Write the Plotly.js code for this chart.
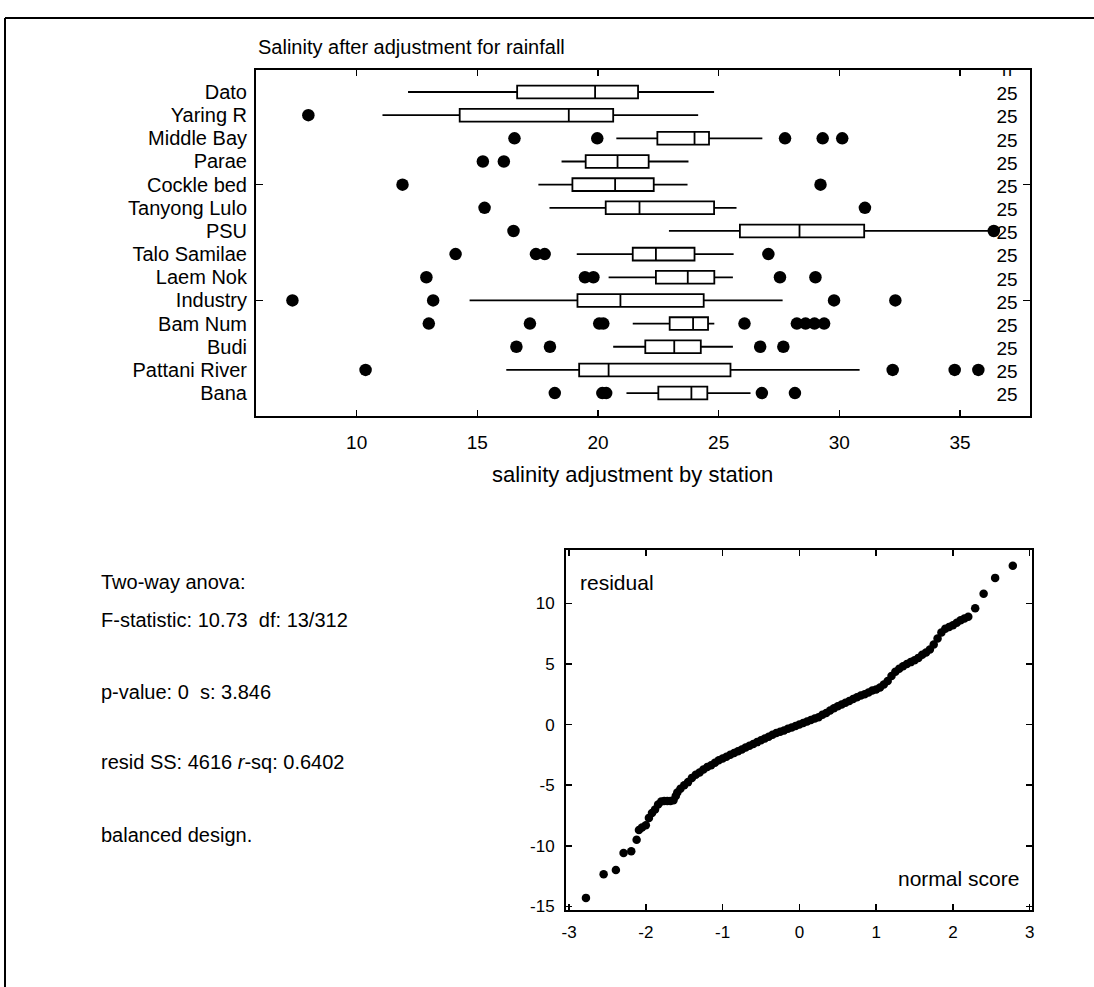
<!DOCTYPE html>
<html>
<head>
<meta charset="utf-8">
<script src="https://cdn.plot.ly/plotly-3.0.1.min.js"></script>
<style>html,body{margin:0;padding:0;background:#fff}#chart{width:1094px;height:987px}</style>
</head>
<body>
<div id="chart"></div>
<script>
// ---- data ----
var stations = ["Dato","Yaring R","Middle Bay","Parae","Cockle bed","Tanyong Lulo","PSU",
                "Talo Samilae","Laem Nok","Industry","Bam Num","Budi","Pattani River","Bana"];
var lowerWhisker = [12.13, 11.07, 20.76, 18.49, 17.53, 17.99, 22.94, 19.12, 20.44, 14.68, 21.44, 20.63, 16.20, 21.18];
var q1Values     = [16.65, 14.27, 22.46, 19.49, 18.94, 20.32, 25.88, 21.44, 22.40, 19.15, 22.97, 21.96, 19.22, 22.50];
var medianValues = [19.88, 18.79, 24.00, 20.81, 20.71, 21.72, 28.35, 22.40, 23.72, 20.93, 23.94, 23.16, 20.44, 23.87];
var q3Values     = [21.66, 20.63, 24.60, 22.10, 22.31, 24.81, 31.03, 24.00, 24.82, 24.38, 24.56, 24.26, 25.49, 24.53];
var upperWhisker = [24.81, 24.15, 26.81, 23.75, 23.71, 25.74, 36.18, 25.62, 25.59, 27.65, 24.82, 25.59, 30.84, 26.32];
var stationCounts = [25,25,25,25,25,25,25,25,25,25,25,25,25,25];
var countHeader = "n";

var outlierStation = ["Yaring R",
  "Middle Bay","Middle Bay","Middle Bay","Middle Bay","Middle Bay",
  "Parae","Parae",
  "Cockle bed","Cockle bed",
  "Tanyong Lulo","Tanyong Lulo",
  "PSU","PSU",
  "Talo Samilae","Talo Samilae","Talo Samilae","Talo Samilae",
  "Laem Nok","Laem Nok","Laem Nok","Laem Nok","Laem Nok",
  "Industry","Industry","Industry","Industry",
  "Bam Num","Bam Num","Bam Num","Bam Num","Bam Num","Bam Num","Bam Num","Bam Num","Bam Num",
  "Budi","Budi","Budi","Budi",
  "Pattani River","Pattani River","Pattani River","Pattani River",
  "Bana","Bana","Bana","Bana","Bana"];
var outlierValue = [8.00,
  16.54, 19.97, 27.75, 29.31, 30.12,
  15.23, 16.10,
  11.90, 29.22,
  15.30, 31.06,
  16.50, 36.40,
  14.10, 17.43, 17.79, 27.06,
  12.89, 19.46, 19.81, 27.54, 29.01,
  7.34, 13.17, 29.78, 32.32,
  12.99, 17.18, 20.05, 20.22, 26.07, 28.24, 28.60, 28.97, 29.37,
  16.62, 18.01, 26.72, 27.68,
  10.37, 32.21, 34.78, 35.76,
  18.21, 20.18, 20.34, 26.79, 28.16];

var xTickVals = [10, 15, 20, 25, 30, 35];

// normal probability plot of residuals (normal score, residual)
var qqScore = [-2.78,-2.55,-2.39,-2.29,-2.19,-2.12,
  -2.09,-2.05,-2.00,-1.96,-1.92,-1.88,-1.84,-1.80,-1.76,-1.72,-1.68,-1.64,-1.61,-1.59,-1.55,-1.50,-1.45,-1.40,-1.35,-1.30,-1.25,-1.20,-1.15,-1.10,-1.05,-1.00,
  -0.95,-0.90,-0.85,-0.80,-0.75,-0.70,-0.65,-0.60,-0.55,-0.50,-0.45,-0.40,-0.35,-0.30,-0.25,-0.20,-0.15,-0.10,-0.05,
  0.00,0.05,0.10,0.15,0.20,0.25,0.30,0.35,0.40,0.45,0.50,0.55,0.60,0.65,0.70,0.75,0.80,0.85,0.90,0.95,
  1.00,1.05,1.10,1.15,1.20,1.25,1.30,1.35,1.40,1.45,1.50,1.55,1.60,1.65,1.70,1.75,1.80,1.85,1.90,1.95,
  2.00,2.05,2.10,2.15,2.20,
  2.29,2.40,2.55,2.78];
var qqResid = [-14.3,-12.35,-12.0,-10.6,-10.45,-9.5,
  -8.7,-8.5,-8.3,-7.7,-7.3,-7.0,-6.6,-6.35,-6.3,-6.3,-6.3,-6.25,-5.9,-5.6,-5.3,-5.0,-4.75,-4.4,-4.15,-3.95,-3.7,-3.5,-3.35,-3.15,-2.95,-2.8,
  -2.65,-2.5,-2.35,-2.2,-2.05,-1.9,-1.75,-1.6,-1.45,-1.3,-1.15,-1.0,-0.85,-0.7,-0.6,-0.5,-0.35,-0.25,-0.12,
  0.0,0.12,0.25,0.38,0.5,0.6,0.8,0.95,1.15,1.35,1.5,1.65,1.8,1.95,2.1,2.25,2.4,2.5,2.65,2.8,
  2.9,3.05,3.3,3.6,4.0,4.35,4.6,4.8,5.0,5.15,5.3,5.5,5.75,5.95,6.2,6.6,7.1,7.6,7.9,8.05,
  8.2,8.4,8.6,8.75,8.9,
  9.6,10.8,12.1,13.1];
var qqXTicks = [-3,-2,-1,0,1,2,3];
var qqYTicks = [-15,-10,-5,0,5,10];

var anovaLines = ["Two-way anova:",
  "F-statistic: 10.73  df: 13/312",
  "p-value: 0  s: 3.846",
  "resid SS: 4616 <i>r</i>-sq: 0.6402",
  "balanced design."];

// ---- build ----
var W = 1094, H = 987;
function px(x){ return x / W; }
function py(y){ return 1 - y / H; }
var FONT = "Liberation Sans, Arial, Helvetica, sans-serif";
var rowIdx = stations.map(function(s, i){ return i; });

var boxTrace = {
  type: "box", orientation: "h", xaxis: "x", yaxis: "y",
  y: rowIdx, q1: q1Values, median: medianValues, q3: q3Values,
  lowerfence: lowerWhisker, upperfence: upperWhisker,
  boxpoints: false, width: 0.55, whiskerwidth: 0,
  line: {color: "black", width: 1.8}, fillcolor: "white",
  hoverinfo: "skip", showlegend: false
};
var outTrace = {
  type: "scatter", mode: "markers", xaxis: "x", yaxis: "y",
  x: outlierValue, y: outlierStation.map(function(s){ return stations.indexOf(s); }),
  marker: {color: "black", size: 12.5}, hoverinfo: "skip", cliponaxis: false
};
var countTrace = {
  type: "scatter", mode: "text", xaxis: "x", yaxis: "y",
  x: stationCounts.map(function(){ return 36.95; }), y: rowIdx.map(function(i){ return i + 0.15; }),
  text: stationCounts.map(String),
  textfont: {family: FONT, size: 19, color: "black"}, cliponaxis: true, hoverinfo: "skip"
};
var headerTrace = {
  type: "scatter", mode: "text", xaxis: "x", yaxis: "y",
  x: [36.95], y: [-0.88], text: [countHeader],
  textfont: {family: FONT, size: 18, color: "black"}, cliponaxis: true, hoverinfo: "skip"
};
var qqTrace = {
  type: "scatter", mode: "markers", xaxis: "x2", yaxis: "y2",
  x: qqScore, y: qqResid, marker: {color: "black", size: 8.5}, hoverinfo: "skip", cliponaxis: false
};

var axisCommon = {
  showgrid: false, zeroline: false, showline: true, linecolor: "black", linewidth: 2,
  mirror: "ticks", ticks: "inside", ticklen: 6, tickwidth: 1.5, tickcolor: "black"
};

var annotations = [
  {text: "Salinity after adjustment for rainfall", x: px(256), y: py(47), xref: "paper", yref: "paper",
   xanchor: "left", yanchor: "middle", showarrow: false, font: {family: FONT, size: 20, color: "black"}},
  {text: "salinity adjustment by station", x: px(632), y: py(474), xref: "paper", yref: "paper",
   xanchor: "center", yanchor: "middle", showarrow: false, font: {family: FONT, size: 22, color: "black"}},
  {text: "residual", x: px(578), y: py(582), xref: "paper", yref: "paper",
   xanchor: "left", yanchor: "middle", showarrow: false, font: {family: FONT, size: 21, color: "black"}},
  {text: "normal score", x: px(1021), y: py(878), xref: "paper", yref: "paper",
   xanchor: "right", yanchor: "middle", showarrow: false, font: {family: FONT, size: 21, color: "black"}}
];
var lineY = [582, 620, 692, 762, 835];
anovaLines.forEach(function(t, i){
  annotations.push({text: t, x: px(99), y: py(lineY[i]), xref: "paper", yref: "paper",
    xanchor: "left", yanchor: "middle", showarrow: false, font: {family: FONT, size: 20, color: "black"}});
});

var layout = {
  width: W, height: H, margin: {l: 0, r: 0, t: 0, b: 0},
  paper_bgcolor: "white", plot_bgcolor: "white", showlegend: false,
  font: {family: FONT, color: "black"},
  xaxis: Object.assign({}, axisCommon, {
    domain: [px(256), px(1030)], range: [5.83, 37.9], anchor: "y",
    tickvals: xTickVals, ticktext: xTickVals.map(String),
    tickfont: {family: FONT, size: 19}, ticklabelstandoff: 8
  }),
  yaxis: Object.assign({}, axisCommon, {
    domain: [py(416), py(70)], range: [13.99, -0.95], anchor: "x",
    tickvals: rowIdx, ticktext: stations, ticklen: 0,
    minor: {tickvals: [4, 9], ticks: "inside", ticklen: 7, tickwidth: 1.5, tickcolor: "black"},
    tickfont: {family: FONT, size: 20}, ticklabelstandoff: 3
  }),
  xaxis2: Object.assign({}, axisCommon, {
    domain: [px(566), px(1032)], range: [-3.04, 3.03], anchor: "y2",
    tickvals: qqXTicks, ticktext: qqXTicks.map(String),
    tickfont: {family: FONT, size: 17}, ticklabelstandoff: 6
  }),
  yaxis2: Object.assign({}, axisCommon, {
    domain: [py(910), py(550)], range: [-15.3, 14.4], anchor: "x2",
    tickvals: qqYTicks, ticktext: qqYTicks.map(String),
    tickfont: {family: FONT, size: 17}, ticklabelstandoff: 6
  }),
  annotations: annotations,
  shapes: [
    {type: "line", xref: "paper", yref: "paper", x0: px(5), x1: 1, y0: py(18), y1: py(18), line: {color: "black", width: 2}},
    {type: "line", xref: "paper", yref: "paper", x0: px(5), x1: px(5), y0: py(18), y1: 0, line: {color: "black", width: 2}}
  ]
};

Plotly.newPlot("chart", [boxTrace, outTrace, countTrace, headerTrace, qqTrace], layout, {staticPlot: true, displayModeBar: false});
</script>
</body>
</html>
